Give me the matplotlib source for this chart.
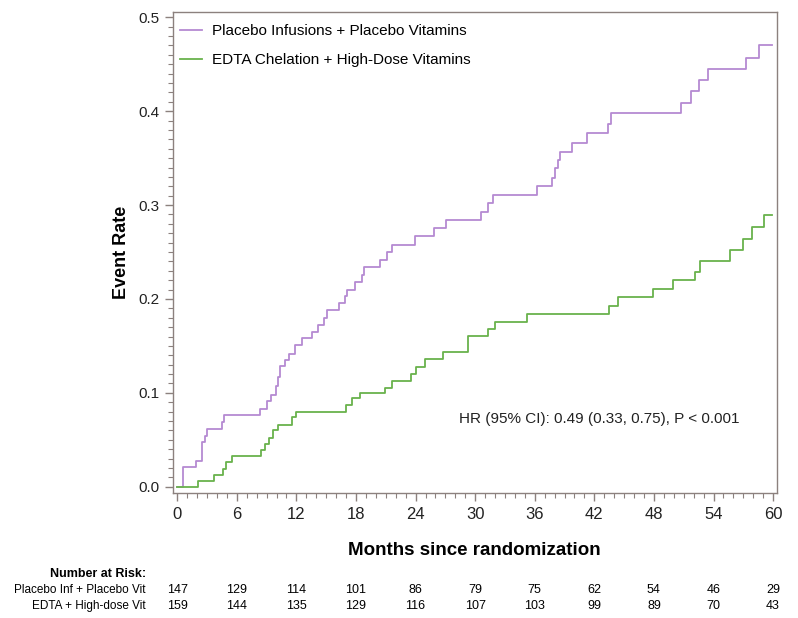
import matplotlib.pyplot as plt
import matplotlib.transforms as mtransforms

# step times (months) and cumulative event rate after each step
placebo_t = [0, 0.54, 1.9, 2.46, 2.79, 3.02, 4.47, 4.7, 8.33, 9.0, 9.44, 9.94, 10.1,
             10.34, 10.85, 11.25, 11.85, 12.53, 13.53, 14.2, 14.77, 15.08, 16.3, 16.9,
             17.1, 17.9, 18.6, 18.8, 20.4, 21.15, 21.6, 23.9, 25.9, 27.05, 30.55, 31.3,
             31.8, 36.25, 37.7, 38.0, 38.3, 38.5, 39.7, 41.3, 43.4, 43.7, 50.7, 51.7,
             52.5, 53.4, 57.3, 58.6, 59.9]
placebo_y = [0, 0.021, 0.027, 0.048, 0.054, 0.061, 0.069, 0.076, 0.083, 0.091, 0.098,
             0.107, 0.117, 0.129, 0.135, 0.141, 0.151, 0.158, 0.165, 0.172, 0.180, 0.188,
             0.196, 0.203, 0.210, 0.218, 0.226, 0.234, 0.242, 0.250, 0.258, 0.267, 0.276,
             0.284, 0.293, 0.302, 0.311, 0.320, 0.329, 0.339, 0.348, 0.357, 0.366, 0.377,
             0.386, 0.398, 0.409, 0.421, 0.433, 0.445, 0.457, 0.471, 0.471]

edta_t = [0, 2.1, 3.7, 4.63, 4.9, 5.48, 8.4, 8.83, 9.26, 9.6, 10.17, 11.6, 12.0, 17.0,
          17.56, 18.4, 20.9, 21.66, 23.55, 24.0, 24.9, 26.8, 29.3, 31.3, 32.0, 35.2,
          43.5, 44.4, 47.9, 49.9, 52.1, 52.6, 55.7, 57.0, 57.9, 59.1, 59.9]
edta_y = [0, 0.006, 0.012, 0.019, 0.026, 0.033, 0.039, 0.045, 0.052, 0.060, 0.066,
          0.074, 0.080, 0.087, 0.094, 0.100, 0.105, 0.113, 0.120, 0.128, 0.136, 0.144,
          0.161, 0.168, 0.175, 0.184, 0.193, 0.202, 0.211, 0.220, 0.229, 0.240, 0.252,
          0.264, 0.277, 0.289, 0.289]

risk_months = [0, 6, 12, 18, 24, 30, 36, 42, 48, 54, 60]
risk_placebo = [147, 129, 114, 101, 86, 79, 75, 62, 54, 46, 29]
risk_edta = [159, 144, 135, 129, 116, 107, 103, 99, 89, 70, 43]

purple = "#b58ad2"
green = "#69b24c"
spine = "#8c817e"

plt.rcParams["font.family"] = ["Liberation Sans", "DejaVu Sans"]

fig = plt.figure(figsize=(7.98, 6.18), dpi=100)
ax = fig.add_axes([0.2164, 0.2018, 0.7569, 0.7793])

ax.step(placebo_t, placebo_y, where="post", color=purple, lw=1.3,
        label="Placebo Infusions + Placebo Vitamins")
ax.step(edta_t, edta_y, where="post", color=green, lw=1.3,
        label="EDTA Chelation + High-Dose Vitamins")

ax.set_xlim(-0.46, 60.36)
ax.set_ylim(-0.007, 0.506)
ax.set_xticks(range(0, 61, 6))
ax.set_xticks(range(0, 61, 1), minor=True)
ax.set_yticks([0, 0.1, 0.2, 0.3, 0.4, 0.5])
ax.set_yticks([i / 100 for i in range(0, 51)], minor=True)
ax.set_yticklabels(["0.0", "0.1", "0.2", "0.3", "0.4", "0.5"])

for s in ax.spines.values():
    s.set_color(spine)
    s.set_linewidth(1.0)
ax.tick_params(which="major", length=6, width=1, color=spine, labelsize=11,
               labelcolor="#222222")
ax.tick_params(which="minor", length=3.5, width=0.8, color=spine)
ax.tick_params(axis="x", pad=4, labelsize=12)

ax.set_ylabel("Event Rate", fontsize=13, fontweight="bold", labelpad=6)
ax.set_xlabel("Months since randomization", fontsize=13.5, fontweight="bold",
              labelpad=14)

ax.legend(loc="upper left", bbox_to_anchor=(0.005, 0.984), frameon=False,
          fontsize=11, handlelength=1.4, handletextpad=0.7, labelspacing=1.0,
          borderpad=0.3, borderaxespad=0)

ax.text(28.4, 0.0716, "HR (95% CI): 0.49 (0.33, 0.75), P < 0.001", fontsize=11,
        color="#222222", va="center")

# number at risk table below the axis
trans = mtransforms.blended_transform_factory(ax.transData, fig.transFigure)
fig.text(146 / 798, 1 - 574 / 618, "Number at Risk:", ha="right", va="center",
         fontsize=9, fontweight="bold")
rows = [("Placebo Inf + Placebo Vit", risk_placebo, 590),
        ("EDTA + High-dose Vit", risk_edta, 606)]
for label, counts, ypx in rows:
    yf = 1 - ypx / 618
    fig.text(146 / 798, yf, label, ha="right", va="center", fontsize=8.5)
    for m, n in zip(risk_months, counts):
        ax.text(m, yf, str(n), transform=trans, ha="center", va="center",
                fontsize=9)

fig.savefig("out.png", dpi=100, facecolor="white")
